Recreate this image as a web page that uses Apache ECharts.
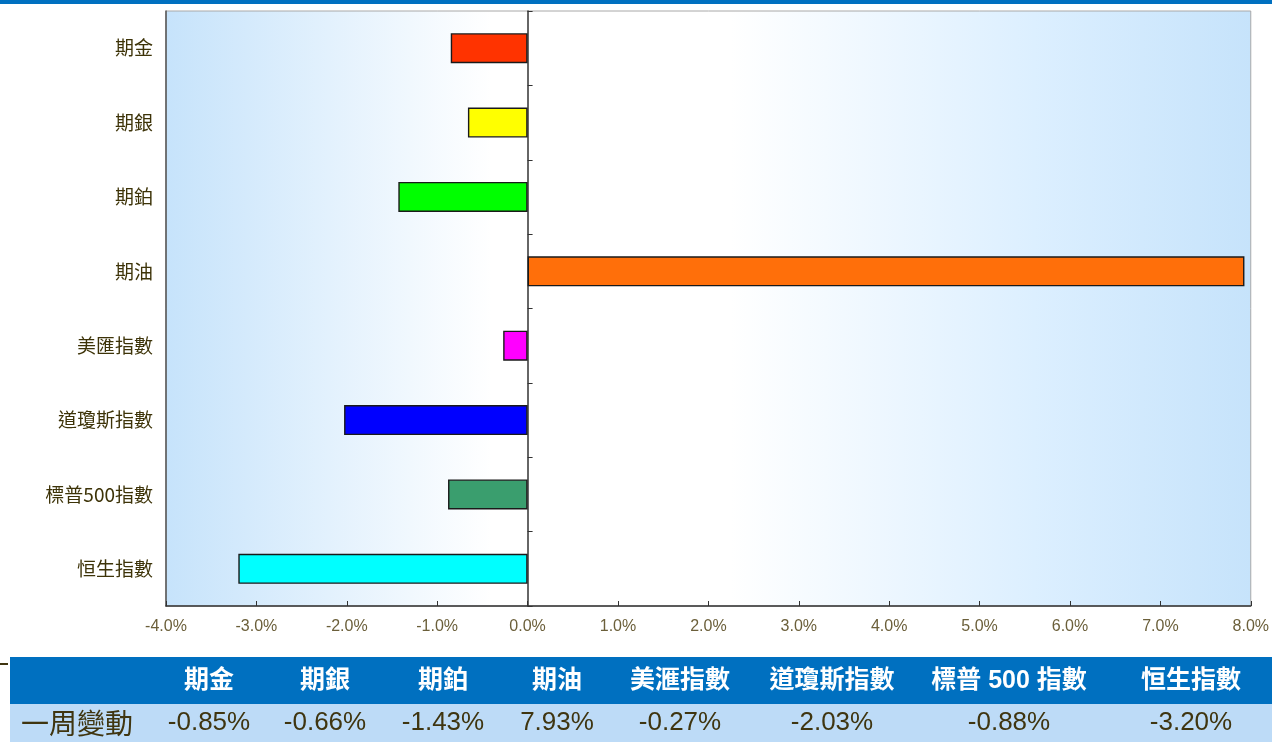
<!DOCTYPE html>
<html><head><meta charset="utf-8">
<script src="https://cdn.jsdelivr.net/npm/echarts@6/dist/echarts.min.js"></script>
<style>html,body{margin:0;padding:0;background:#fff;overflow:hidden}#c{width:1272px;height:742px}</style>
</head><body><div id="c"></div>
<script>
// ---- data ----
const categories = ['期金', '期銀', '期鉑', '期油', '美匯指數', '道瓊斯指數', '標普500指數', '恒生指數'];
const weeklyChange = [-0.85, -0.66, -1.43, 7.93, -0.27, -2.03, -0.88, -3.20];
const barColors = ['#ff3300', '#ffff00', '#00ff00', '#ff6f0a', '#ff00ff', '#0000ff', '#3a9e6e', '#00ffff'];
const tableHeaders = ['期金', '期銀', '期鉑', '期油', '美滙指數', '道瓊斯指數', '標普 500 指數', '恒生指數'];
const rowLabel = '一周變動';
const xMin = -4, xMax = 8, xInterval = 1;

// ---- layout ----
const colCenters = [209, 325, 443, 557, 680, 832, 1009, 1191];
const cjk = '"Noto Sans CJK TC", "Liberation Sans", sans-serif';
const latin = '"Liberation Sans", "Noto Sans CJK TC", sans-serif';

const chart = echarts.init(document.getElementById('c'), null, { renderer: 'canvas' });

const graphics = [
  { type: 'rect', shape: { x: 0, y: 0, width: 1272, height: 4 }, style: { fill: '#0070c0' } },
  { type: 'rect', shape: { x: 10, y: 657, width: 1262, height: 47 }, style: { fill: '#0070c0' } },
  { type: 'rect', shape: { x: 10, y: 704, width: 1262, height: 38 }, style: { fill: '#bddbf7' } },
  { type: 'line', shape: { x1: 0, y1: 664, x2: 8, y2: 664 }, style: { stroke: '#3f3510', lineWidth: 2 } },
  { type: 'text', x: 77, y: 723, style: { text: rowLabel, fill: '#3f3510', font: '28px ' + cjk, align: 'center', verticalAlign: 'middle' } }
];
tableHeaders.forEach((h, i) => {
  graphics.push({ type: 'text', x: colCenters[i], y: 681,
    style: { text: h, fill: '#ffffff', font: 'bold 25px ' + latin, align: 'center', verticalAlign: 'middle' } });
});
weeklyChange.forEach((v, i) => {
  graphics.push({ type: 'text', x: colCenters[i], y: 723,
    style: { text: v.toFixed(2) + '%', fill: '#3f3510', font: '26px ' + latin, align: 'center', verticalAlign: 'middle' } });
});

chart.setOption({
  animation: false,
  grid: {
    left: 166, top: 11, width: 1085, height: 595,
    show: true, borderColor: '#a8a8a8', borderWidth: 1,
    backgroundColor: new echarts.graphic.LinearGradient(0, 0, 1, 0, [
      { offset: 0, color: '#c6e3fb' },
      { offset: 0.3, color: '#ffffff' },
      { offset: 0.52, color: '#ffffff' },
      { offset: 0.8, color: '#dcefff' },
      { offset: 1, color: '#c6e3fb' }
    ])
  },
  xAxis: {
    type: 'value', min: xMin, max: xMax, interval: xInterval,
    axisLine: { show: true, onZero: false, lineStyle: { color: '#333', width: 1.5 } },
    axisTick: { show: true, inside: true, length: 5, lineStyle: { color: '#333' } },
    axisLabel: { formatter: v => v.toFixed(1) + '%', color: '#6b5f3a', fontSize: 16, margin: 13, fontFamily: latin },
    splitLine: { show: false }
  },
  yAxis: [
    {
      type: 'category', data: categories, inverse: true, position: 'left',
      axisLine: { show: true, onZero: false, lineStyle: { color: '#555', width: 1.5 } },
      axisTick: { show: false },
      axisLabel: { color: '#3d3308', fontSize: 19, margin: 13, fontFamily: cjk },
      splitLine: { show: false }
    },
    {
      type: 'category', data: categories, inverse: true, position: 'left',
      axisLine: { show: true, onZero: true, lineStyle: { color: '#333', width: 1.5 } },
      axisTick: { show: true, inside: true, length: 5, lineStyle: { color: '#333' } },
      axisLabel: { show: false },
      splitLine: { show: false }
    }
  ],
  series: [{
    type: 'bar', yAxisIndex: 0, barWidth: 30,
    data: weeklyChange.map((v, i) => ({ value: v, itemStyle: { color: barColors[i] } })),
    itemStyle: { borderColor: '#1a1a1a', borderWidth: 1.4 }
  }],
  graphic: graphics
});
</script></body></html>
